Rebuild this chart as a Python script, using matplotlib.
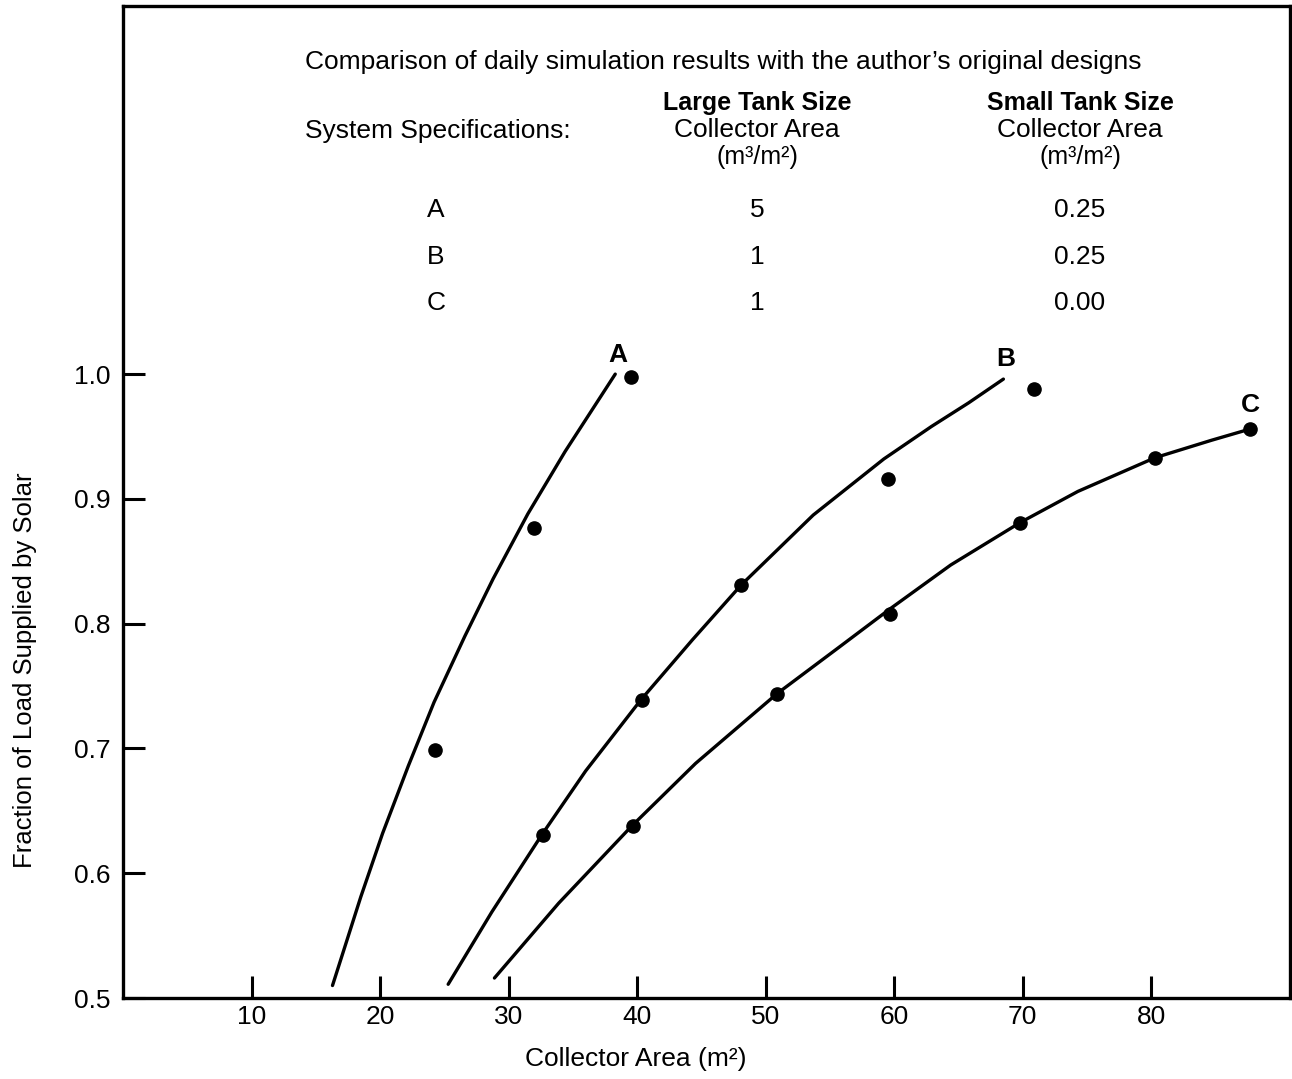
import matplotlib.pyplot as plt

plt.rcParams['font.family'] = ['Liberation Sans', 'DejaVu Sans']

# curve A (large tank 5, small tank 0.25)
a_curve_x = [16.3, 18.5, 20.2, 22.2, 24.2, 26.6, 28.8, 31.5, 34.4, 38.3]
a_curve_y = [0.510, 0.581, 0.632, 0.686, 0.737, 0.790, 0.836, 0.888, 0.938, 1.000]
a_pts_x = [24.3, 32.0, 39.5]
a_pts_y = [0.699, 0.877, 0.998]

# curve B (large tank 1, small tank 0.25)
b_curve_x = [25.3, 28.7, 32.6, 36.0, 40.3, 44.3, 48.1, 53.7, 59.2, 62.9, 65.8, 68.5]
b_curve_y = [0.511, 0.569, 0.631, 0.682, 0.739, 0.787, 0.831, 0.887, 0.932, 0.958, 0.977, 0.996]
b_pts_x = [32.7, 40.4, 48.1, 59.5, 70.9]
b_pts_y = [0.631, 0.739, 0.831, 0.916, 0.988]

# curve C (large tank 1, small tank 0.00)
c_curve_x = [28.9, 33.9, 39.6, 44.55, 50.9, 55.7, 59.7, 64.4, 69.8, 74.3, 80.3, 84.7, 87.7]
c_curve_y = [0.516, 0.576, 0.638, 0.688, 0.744, 0.781, 0.812, 0.847, 0.881, 0.906, 0.933, 0.947, 0.956]
c_pts_x = [39.7, 50.9, 59.7, 69.8, 80.3, 87.7]
c_pts_y = [0.638, 0.744, 0.808, 0.881, 0.933, 0.956]

x_ticks = [10, 20, 30, 40, 50, 60, 70, 80]
y_ticks = [0.5, 0.6, 0.7, 0.8, 0.9, 1.0]

systems = ['A', 'B', 'C']
large_tank = ['5', '1', '1']
small_tank = ['0.25', '0.25', '0.00']

W, H = 1292, 1079


def px(x, y):
    return x / W, 1 - y / H


fig = plt.figure(figsize=(W / 100, H / 100), dpi=100)
ax = fig.add_axes([123 / W, 1 - 998 / H, (1290 - 123) / W, (998 - 6) / H])

lw = 2.4
for cx, cy, pxs, pys in [(a_curve_x, a_curve_y, a_pts_x, a_pts_y),
                         (b_curve_x, b_curve_y, b_pts_x, b_pts_y),
                         (c_curve_x, c_curve_y, c_pts_x, c_pts_y)]:
    ax.plot(cx, cy, color='black', lw=lw, solid_capstyle='round', solid_joinstyle='round')
    ax.plot(pxs, pys, 'o', color='black', ms=9.5)

ax.text(38.5, 1.015, 'A', fontsize=19, fontweight='bold', ha='center', va='center')
ax.text(68.7, 1.012, 'B', fontsize=19, fontweight='bold', ha='center', va='center')
ax.text(87.7, 0.975, 'C', fontsize=19, fontweight='bold', ha='center', va='center')

ax.set_xlim(0, 90.8)
ax.set_ylim(0.5, 1.295)
ax.set_xticks(x_ticks)
ax.set_yticks(y_ticks)
ax.set_yticklabels(['%.1f' % v for v in y_ticks])
ax.tick_params(direction='in', length=16, width=2.2, labelsize=19, pad=5)
ax.tick_params(axis='y', pad=9)
for s in ax.spines.values():
    s.set_linewidth(2.4)

fig.text(*px(25, 670), 'Fraction of Load Supplied by Solar', rotation=90,
         ha='center', va='center', fontsize=18.5)
fig.text(*px(636, 1059), 'Collector Area (m\u00b2)', ha='center', va='center', fontsize=19)

# spec table
fs = 19
fig.text(*px(305, 62), "Comparison of daily simulation results with the author\u2019s original designs",
         ha='left', va='center', fontsize=fs)
fig.text(*px(305, 131), 'System Specifications:', ha='left', va='center', fontsize=fs)
for cx, head in [(757, 'Large Tank Size'), (1080, 'Small Tank Size')]:
    fig.text(*px(cx, 103), head, ha='center', va='center', fontsize=18, fontweight='bold')
    fig.text(*px(cx, 130), 'Collector Area', ha='center', va='center', fontsize=fs)
    fig.text(*px(cx, 157), '(m\u00b3/m\u00b2)', ha='center', va='center', fontsize=18)

row_y = [210, 257, 303]
for ry, s, lt, st in zip(row_y, systems, large_tank, small_tank):
    fig.text(*px(436, ry), s, ha='center', va='center', fontsize=fs)
    fig.text(*px(757, ry), lt, ha='center', va='center', fontsize=fs)
    fig.text(*px(1080, ry), st, ha='center', va='center', fontsize=fs)

plt.savefig('out.png', dpi=100)
